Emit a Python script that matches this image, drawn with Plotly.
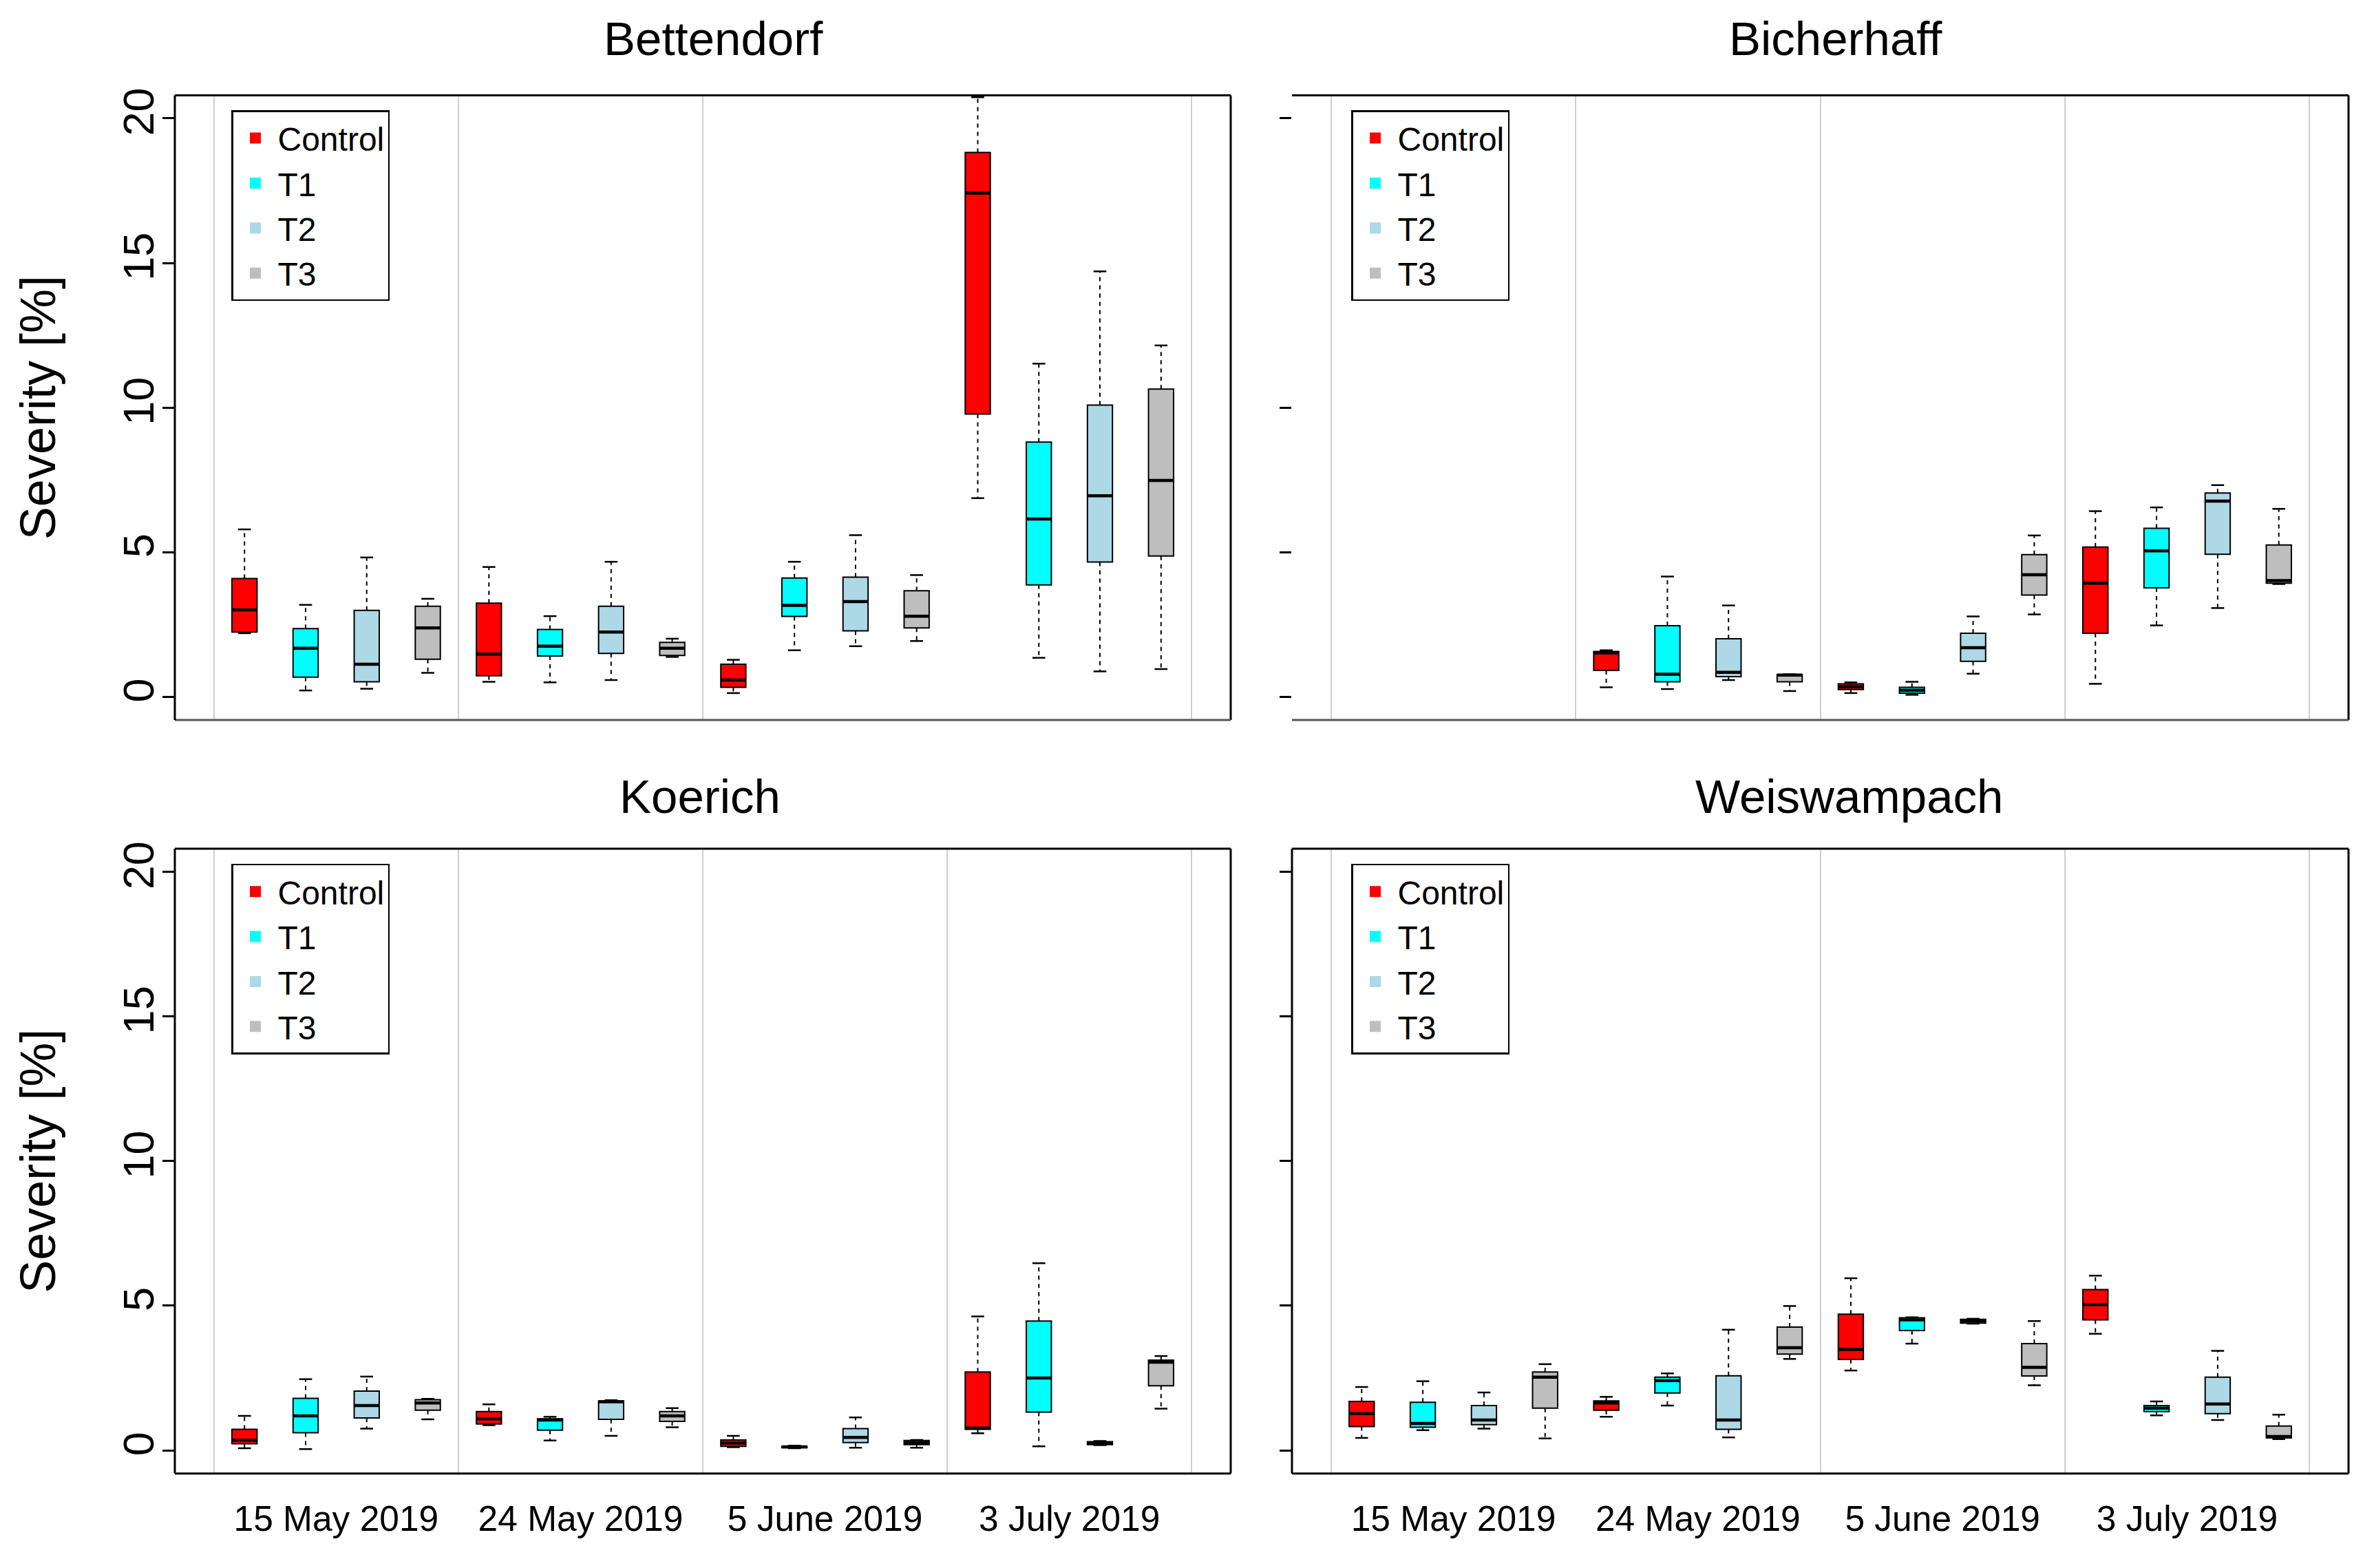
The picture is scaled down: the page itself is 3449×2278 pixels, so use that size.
import plotly.graph_objects as go

# ---------------- data ----------------
DATES = ["15 May 2019", "24 May 2019", "5 June 2019", "3 July 2019"]
TREATMENTS = ["Control", "T1", "T2", "T3"]
COLORS = ["#FF0000", "#00FFFF", "#ADD8E6", "#BEBEBE"]
SITES = ["Bettendorf", "Bicherhaff", "Koerich", "Weiswampach"]

# 16 values per list: date by date, Control/T1/T2/T3 within each date
BET_LOW = [2.20, 0.22, 0.28, 0.83, 0.52, 0.50, 0.58, 1.38, 0.13, 1.61, 1.75, 1.93, 6.87, 1.35, 0.88, 0.96]
BET_Q1 = [2.24, 0.68, 0.52, 1.30, 0.73, 1.41, 1.50, 1.43, 0.33, 2.78, 2.28, 2.38, 9.78, 3.87, 4.66, 4.87]
BET_MED = [3.01, 1.68, 1.13, 2.38, 1.48, 1.75, 2.24, 1.68, 0.58, 3.16, 3.29, 2.79, 17.42, 6.15, 6.95, 7.48]
BET_Q3 = [4.09, 2.36, 2.99, 3.13, 3.24, 2.33, 3.13, 1.88, 1.13, 4.11, 4.14, 3.67, 18.82, 8.81, 10.09, 10.64]
BET_HIGH = [5.79, 3.18, 4.82, 3.39, 4.49, 2.79, 4.67, 2.01, 1.28, 4.67, 5.59, 4.21, 20.73, 11.52, 14.71, 12.15]

BIC_LOW = [None, None, None, None, 0.33, 0.27, 0.58, 0.20, 0.13, 0.07, 0.80, 2.85, 0.45, 2.47, 3.07, 3.90]
BIC_Q1 = [None, None, None, None, 0.91, 0.52, 0.70, 0.52, 0.25, 0.13, 1.23, 3.52, 2.20, 3.77, 4.93, 3.93]
BIC_MED = [None, None, None, None, 1.52, 0.78, 0.85, 0.75, 0.35, 0.23, 1.70, 4.22, 3.93, 5.05, 6.77, 4.02]
BIC_Q3 = [None, None, None, None, 1.57, 2.46, 2.01, 0.77, 0.45, 0.33, 2.20, 4.92, 5.18, 5.83, 7.05, 5.25]
BIC_HIGH = [None, None, None, None, 1.61, 4.16, 3.16, 0.78, 0.50, 0.52, 2.78, 5.58, 6.42, 6.55, 7.32, 6.50]

KOE_LOW = [0.07, 0.04, 0.75, 1.07, 0.87, 0.34, 0.50, 0.80, 0.11, 0.07, 0.09, 0.09, 0.59, 0.14, 0.18, 1.44]
KOE_Q1 = [0.23, 0.61, 1.12, 1.39, 0.91, 0.70, 1.07, 1.00, 0.14, 0.09, 0.27, 0.20, 0.73, 1.32, 0.20, 2.23]
KOE_MED = [0.35, 1.19, 1.55, 1.64, 1.09, 1.05, 1.68, 1.19, 0.25, 0.12, 0.45, 0.27, 0.77, 2.50, 0.25, 3.05]
KOE_Q3 = [0.73, 1.80, 2.05, 1.75, 1.34, 1.09, 1.71, 1.34, 0.36, 0.14, 0.75, 0.34, 2.71, 4.47, 0.30, 3.12]
KOE_HIGH = [1.19, 2.46, 2.55, 1.78, 1.59, 1.16, 1.73, 1.46, 0.50, 0.16, 1.14, 0.36, 4.63, 6.47, 0.32, 3.26]

WEI_LOW = [0.43, 0.70, 0.75, 0.41, 1.16, 1.55, 0.45, 3.16, 2.76, 3.69, 4.38, 2.25, 4.03, 1.21, 1.05, 0.39]
WEI_Q1 = [0.82, 0.80, 0.89, 1.46, 1.39, 1.98, 0.73, 3.33, 3.14, 4.14, 4.40, 2.57, 4.51, 1.34, 1.27, 0.43]
WEI_MED = [1.27, 0.93, 1.05, 2.53, 1.64, 2.41, 1.05, 3.55, 3.49, 4.51, 4.47, 2.87, 5.04, 1.46, 1.60, 0.48]
WEI_Q3 = [1.69, 1.66, 1.55, 2.71, 1.71, 2.53, 2.58, 4.26, 4.71, 4.58, 4.53, 3.69, 5.56, 1.55, 2.53, 0.84]
WEI_HIGH = [2.19, 2.39, 2.00, 2.98, 1.85, 2.66, 4.17, 4.99, 5.95, 4.60, 4.55, 4.47, 6.04, 1.69, 3.44, 1.23]

Y_TICKS = [0, 5, 10, 15, 20]
Y_TICKS_BIC = [0, 5, 10, 20]

# visible separator lines between sampling dates (group index boundaries) per panel
GRID_BET = [0, 1, 2, 4]
GRID_BIC = [0, 1, 2, 3, 4]
GRID_KOE = [0, 1, 2, 3, 4]
GRID_WEI = [0, 2, 3, 4]

# ---------------- layout constants ----------------
W, H = 3449, 2278
FONT = "Liberation Sans, Arial, Helvetica, sans-serif"
BOX_W = 0.41
CAP_W = 0.21
X_RANGE = [-0.14, 17.14]
Y_RANGE = [-0.8, 20.8]

COLS_PX = [(254, 1788), (1877, 3412)]
ROWS_PX = [(128, 1040), (1228, 2140)]
TITLE_Y_PX = [46, 1152]


def xdom(c):
    return [COLS_PX[c][0] / W, COLS_PX[c][1] / W]


def ydom(r):
    return [1 - ROWS_PX[r][1] / H, 1 - ROWS_PX[r][0] / H]


panels = [
    dict(name=SITES[0], stats=(BET_LOW, BET_Q1, BET_MED, BET_Q3, BET_HIGH), row=0, col=0, yt=Y_TICKS,
         grid=GRID_BET, title_x=1036, left_line=True),
    dict(name=SITES[1], stats=(BIC_LOW, BIC_Q1, BIC_MED, BIC_Q3, BIC_HIGH), row=0, col=1, yt=Y_TICKS_BIC,
         grid=GRID_BIC, title_x=2667, left_line=False),
    dict(name=SITES[2], stats=(KOE_LOW, KOE_Q1, KOE_MED, KOE_Q3, KOE_HIGH), row=1, col=0, yt=Y_TICKS,
         grid=GRID_KOE, title_x=1017, left_line=True),
    dict(name=SITES[3], stats=(WEI_LOW, WEI_Q1, WEI_MED, WEI_Q3, WEI_HIGH), row=1, col=1, yt=Y_TICKS,
         grid=GRID_WEI, title_x=2686, left_line=True),
]

n_t = len(TREATMENTS)
n_d = len(DATES)
positions = [d * n_t + t + 1 for d in range(n_d) for t in range(n_t)]
label_pos = [d * n_t + (n_t + 1) / 2 for d in range(n_d)]

fig = go.Figure()
layout_axes = {}
shapes = []
annotations = []
legends = {}

box_traces, line_traces, legend_traces = [], [], []

for i, p in enumerate(panels):
    sfx = "" if i == 0 else str(i + 1)
    xa, ya = "x" + sfx, "y" + sfx
    lo, q1, med, q3, hi = p["stats"]
    leg = "legend" if i == 0 else "legend" + str(i + 1)

    # boxes per treatment
    for t, (tname, col) in enumerate(zip(TREATMENTS, COLORS)):
        idx = [k for k in range(len(positions)) if k % n_t == t and med[k] is not None]
        if not idx:
            continue
        box_traces.append(go.Box(
            x=[positions[k] for k in idx],
            q1=[q1[k] for k in idx], median=[med[k] for k in idx], q3=[q3[k] for k in idx],
            lowerfence=[q1[k] for k in idx], upperfence=[q3[k] for k in idx],
            width=BOX_W, whiskerwidth=0, orientation="v",
            fillcolor=col, line=dict(color="black", width=2),
            xaxis=xa, yaxis=ya, showlegend=False, name=tname, hoverinfo="skip"))
        legend_traces.append(go.Scatter(
            x=[None], y=[None], mode="markers", name=tname,
            marker=dict(symbol="square", size=16, color=col, line=dict(width=0)),
            xaxis=xa, yaxis=ya, legend=leg, showlegend=True, hoverinfo="skip"))

    # whiskers, caps, medians
    wx, wy, cx, cy, mx, my = [], [], [], [], [], []
    for k, pos in enumerate(positions):
        if med[k] is None:
            continue
        wx += [pos, pos, None, pos, pos, None]
        wy += [q3[k], hi[k], None, q1[k], lo[k], None]
        cx += [pos - CAP_W / 2, pos + CAP_W / 2, None, pos - CAP_W / 2, pos + CAP_W / 2, None]
        cy += [hi[k], hi[k], None, lo[k], lo[k], None]
        mx += [pos - BOX_W / 2, pos + BOX_W / 2, None]
        my += [med[k], med[k], None]
    line_traces.append(go.Scatter(x=wx, y=wy, mode="lines", xaxis=xa, yaxis=ya, showlegend=False,
                                  line=dict(color="black", width=2, dash="6px,6px"), hoverinfo="skip"))
    line_traces.append(go.Scatter(x=cx, y=cy, mode="lines", xaxis=xa, yaxis=ya, showlegend=False,
                                  line=dict(color="black", width=2.5), hoverinfo="skip"))
    line_traces.append(go.Scatter(x=mx, y=my, mode="lines", xaxis=xa, yaxis=ya, showlegend=False,
                                  line=dict(color="black", width=4.5), hoverinfo="skip"))

    bottom = p["row"] == 1
    left = p["col"] == 0
    grid_vals = [g * n_t + 0.5 for g in p["grid"]]
    layout_axes["xaxis" + sfx] = dict(
        domain=xdom(p["col"]), anchor=ya, range=X_RANGE, showgrid=False, zeroline=False,
        showline=False, ticks="", tickmode="array", tickvals=label_pos, ticktext=DATES,
        showticklabels=bottom, tickfont=dict(size=51.5, family=FONT, color="black"),
        ticklabelstandoff=31,
        minor=dict(tickmode="array", tickvals=grid_vals, showgrid=True, gridcolor="#CFCFCF",
                   gridwidth=2, ticks=""))
    layout_axes["yaxis" + sfx] = dict(
        domain=ydom(p["row"]), anchor=xa, range=Y_RANGE, showgrid=False, zeroline=False,
        showline=False, ticks="outside", ticklen=17, tickwidth=2.5, tickcolor="black",
        tickmode="array", tickvals=p["yt"], showticklabels=left, tickangle=-90,
        tickfont=dict(size=63, family=FONT, color="black"), ticklabelstandoff=-12)

    # frame
    xr, yr = xa + " domain", ya + " domain"
    frame = [
        (0, 1, 1, 1, "black"),
        (1, 1, 0, 1, "black"),
        (0, 1, 0, 0, "#555555" if not bottom else "black"),
    ]
    if p["left_line"]:
        frame.append((0, 0, 0, 1, "black"))
    for x0, x1, y0, y1, c in frame:
        shapes.append(dict(type="line", xref=xr, yref=yr, x0=x0, x1=x1, y0=y0, y1=y1,
                           line=dict(color=c, width=3), layer="above"))

    # panel title
    top_px = ROWS_PX[p["row"]][0]
    annotations.append(dict(text=p["name"], x=p["title_x"] / W, y=1 - TITLE_Y_PX[p["row"]] / H,
                            xref="paper", yref="paper", xanchor="center", yanchor="middle",
                            showarrow=False, font=dict(size=69, family=FONT, color="black")))
    if left:
        mid = (ROWS_PX[p["row"]][0] + ROWS_PX[p["row"]][1]) / 2
        annotations.append(dict(text="Severity [%]", x=55 / W, y=1 - mid / H, xref="paper", yref="paper",
                                xanchor="center", yanchor="middle", textangle=-90, showarrow=False,
                                font=dict(size=72, family=FONT, color="black")))

    legends[leg] = dict(
        x=(336 if left else 1963) / W, y=1 - (top_px + 22) / H, xanchor="left", yanchor="top",
        bgcolor="white", bordercolor="black", borderwidth=2.5,
        font=dict(size=48, family=FONT, color="black"), itemwidth=55, tracegroupgap=0)

for tr in box_traces + line_traces + legend_traces:
    fig.add_trace(tr)

fig.update_layout(
    width=W, height=H, autosize=False, margin=dict(l=0, r=0, t=0, b=0),
    paper_bgcolor="white", plot_bgcolor="white", showlegend=True,
    font=dict(family=FONT, color="black"),
    shapes=shapes, annotations=annotations, **layout_axes, **legends)

fig.write_html("out.html", config={"displayModeBar": False},
               post_script="document.body.style.margin='0';document.body.style.overflow='hidden';")
